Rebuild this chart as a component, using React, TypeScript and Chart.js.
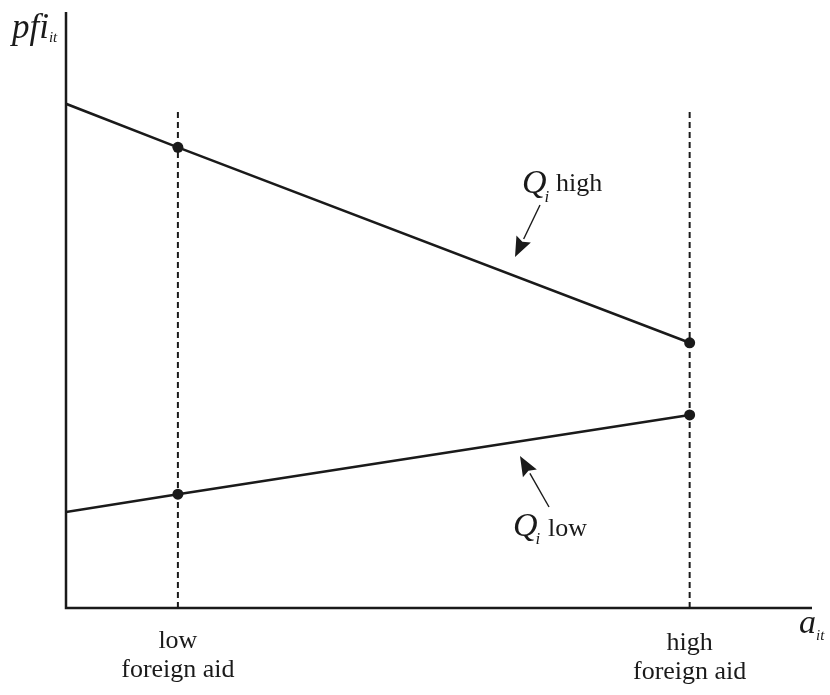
import React, { useEffect, useRef } from "react";
import { Chart, registerables } from "chart.js";

Chart.register(...registerables);

// Horizontal positions (foreign aid, arbitrary units 0..100)
const aidLevels = [0, 15, 83.6];
// pfi values for each Q_i regime
const qHigh = [84.6, 77.3, 44.5];
const qLow = [16.1, 19.1, 32.4];
// Dashed guide lines at the two aid levels
const guideLow = [0, 83.5];
const guideHigh = [0, 83.5];
const tickLabels = [["low", "foreign aid"], ["high", "foreign aid"]];

const SERIF = "'Liberation Serif', 'DejaVu Serif', serif";

export default function App() {
  const ref = useRef<HTMLCanvasElement | null>(null);

  useEffect(() => {
    if (!ref.current) return;
    const ink = "#1a1a1a";

    const annot = {
      id: "annot",
      afterDraw(chart: any) {
        const { ctx, scales } = chart;
        const x = scales.x;
        const y = scales.y;
        const px = (v: number) => x.getPixelForValue(v);
        const py = (v: number) => y.getPixelForValue(v);
        ctx.save();
        ctx.fillStyle = ink;
        ctx.strokeStyle = ink;

        // axes
        ctx.lineWidth = 2.5;
        ctx.beginPath();
        ctx.moveTo(px(0), py(100));
        ctx.lineTo(px(0), py(0));
        ctx.lineTo(px(100), py(0));
        ctx.stroke();

        // italic label with subscript
        const sub = (
          main: string,
          s: string,
          xx: number,
          yy: number,
          size: number,
          subSize: number,
          drop: number,
          gap: number
        ) => {
          ctx.font = `italic ${size}px ${SERIF}`;
          ctx.textAlign = "left";
          ctx.textBaseline = "alphabetic";
          ctx.fillText(main, xx, yy);
          const w = ctx.measureText(main).width;
          ctx.font = `italic ${subSize}px ${SERIF}`;
          ctx.fillText(s, xx + w + gap, yy + drop);
          return w + gap + ctx.measureText(s).width;
        };

        sub("pfi", "it", 12, 38, 35, 15, 4, 0);
        sub("a", "it", 799, 633, 34, 15, 7, 0);

        sub("Q", "i", 522, 193, 34, 17, 9, -2);
        ctx.font = `26px ${SERIF}`;
        ctx.textAlign = "left";
        ctx.fillText("high", 556, 191);
        sub("Q", "i", 513, 536, 34, 17, 8, -2);
        ctx.font = `26px ${SERIF}`;
        ctx.textAlign = "left";
        ctx.fillText("low", 548, 536);

        // tick labels
        ctx.font = `26px ${SERIF}`;
        ctx.textAlign = "center";
        const lx = [px(aidLevels[1]), px(aidLevels[2])];
        const ly = [[648, 677], [650, 679]];
        tickLabels.forEach((lines, i) => {
          lines.forEach((t, j) => ctx.fillText(t, lx[i], ly[i][j]));
        });

        // arrows
        const arrow = (x0: number, y0: number, x1: number, y1: number) => {
          ctx.lineWidth = 1.4;
          const ang = Math.atan2(y1 - y0, x1 - x0);
          const hl = 20;
          const hw = 8;
          const bx = x1 - hl * Math.cos(ang);
          const by = y1 - hl * Math.sin(ang);
          ctx.beginPath();
          ctx.moveTo(x0, y0);
          ctx.lineTo(bx, by);
          ctx.stroke();
          ctx.beginPath();
          ctx.moveTo(x1, y1);
          ctx.lineTo(bx + hw * Math.sin(ang), by - hw * Math.cos(ang));
          ctx.lineTo(bx + 0.15 * hl * Math.cos(ang), by + 0.15 * hl * Math.sin(ang));
          ctx.lineTo(bx - hw * Math.sin(ang), by + hw * Math.cos(ang));
          ctx.closePath();
          ctx.fill();
        };
        arrow(540, 205, 515, 257);
        arrow(549, 507, 520, 456);
        ctx.restore();
      },
    };

    const chart = new Chart(ref.current, {
      type: "scatter",
      data: {
        datasets: [
          {
            data: guideLow.map((v) => ({ x: aidLevels[1], y: v })),
            showLine: true,
            borderColor: ink,
            borderWidth: 2,
            borderDash: [6, 4],
            pointRadius: 0,
          },
          {
            data: guideHigh.map((v) => ({ x: aidLevels[2], y: v })),
            showLine: true,
            borderColor: ink,
            borderWidth: 2,
            borderDash: [6, 4],
            pointRadius: 0,
          },
          {
            data: aidLevels.map((a, i) => ({ x: a, y: qHigh[i] })),
            showLine: true,
            borderColor: ink,
            backgroundColor: ink,
            borderWidth: 2.5,
            pointRadius: [0, 5.5, 5.5],
            pointBorderWidth: 0,
          },
          {
            data: aidLevels.map((a, i) => ({ x: a, y: qLow[i] })),
            showLine: true,
            borderColor: ink,
            backgroundColor: ink,
            borderWidth: 2.5,
            pointRadius: [0, 5.5, 5.5],
            pointBorderWidth: 0,
          },
        ],
      },
      options: {
        animation: false,
        responsive: false,
        maintainAspectRatio: false,
        layout: { padding: { left: 66, top: 12, right: 18, bottom: 87 } },
        plugins: { legend: { display: false }, tooltip: { enabled: false } },
        scales: {
          x: { type: "linear", min: 0, max: 100, display: false },
          y: { type: "linear", min: 0, max: 100, display: false },
        },
      },
      plugins: [annot],
    });
    return () => chart.destroy();
  }, []);

  return (
    <div style={{ position: "absolute", left: 0, top: 0, width: 830, height: 695, background: "#fff" }}>
      <canvas ref={ref} width={830} height={695} style={{ display: "block" }} />
    </div>
  );
}
